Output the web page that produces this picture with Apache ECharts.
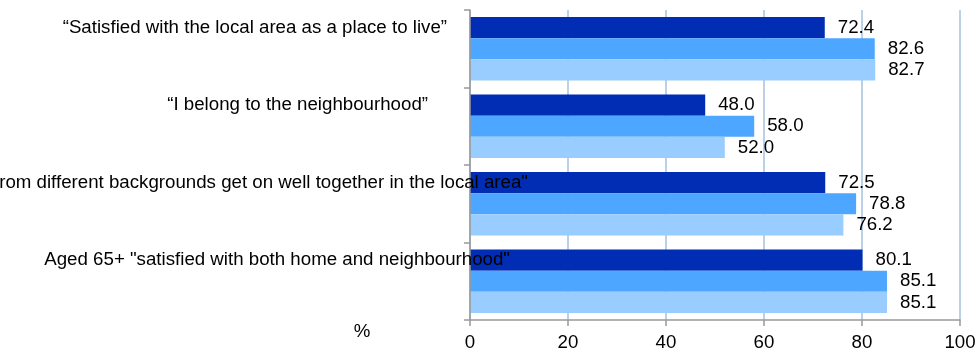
<!DOCTYPE html>
<html><head><meta charset="utf-8">
<script src="https://cdn.jsdelivr.net/npm/echarts@6/dist/echarts.min.js"></script>
<style>html,body{margin:0;padding:0;background:#fff}#c{width:978px;height:353px}</style>
</head><body><div id="c"></div>
<script>
const categories = [
  '“Satisfied with the local area as a place to live”',
  '“I belong to the neighbourhood”',
  '“People from different backgrounds get on well together in the local area"',
  'Aged 65+ "satisfied with both home and neighbourhood"'
];
const seriesNames = ['Series 1', 'Series 2', 'Series 3'];
const series1 = [72.4, 48.0, 72.5, 80.1];
const series2 = [82.6, 58.0, 78.8, 85.1];
const series3 = [82.7, 52.0, 76.2, 85.1];
const xMin = 0, xMax = 100, xStep = 20;
const axisName = '%';

// style: right padding per category label (label placement only)
const labelRightPad = [83, 102, 2, 20];
const colors = ['#002db3', '#4da6ff', '#99ccff'];
const FONT = '"Liberation Sans", Arial, sans-serif';
const FS = 18.7;

const rich = {};
labelRightPad.forEach((p, i) => {
  rich['l' + i] = { padding: [0, p, 42, 0], fontSize: FS, fontFamily: FONT, color: '#000' };
});

const chart = echarts.init(document.getElementById('c'));
const mk = (name, data, i) => ({
  name, type: 'bar', data,
  itemStyle: { color: colors[i] },
  barGap: '0%', barCategoryGap: '18%',
  label: {
    show: true, position: 'right', distance: 13,
    fontSize: FS, fontFamily: FONT, color: '#000',
    formatter: p => p.value.toFixed(1)
  }
});
chart.setOption({
  animation: false,
  textStyle: { fontFamily: FONT },
  grid: { left: 470, right: 18, top: 10, bottom: 33, containLabel: false, outerBoundsMode: 'none' },
  graphic: [{
    type: 'text', x: 362, y: 332,
    style: { text: axisName, fontSize: FS, fontFamily: FONT, fill: '#000', align: 'center', verticalAlign: 'middle' }
  }],
  xAxis: {
    type: 'value', min: xMin, max: xMax, interval: xStep,
    axisLine: { show: true, lineStyle: { color: '#999', width: 1.5 } },
    axisTick: { show: true, length: 6, lineStyle: { color: '#999', width: 1.5 } },
    axisLabel: { fontSize: FS, fontFamily: FONT, color: '#000', margin: 13 },
    splitLine: { show: true, lineStyle: { color: '#bcd0e8', width: 2 } }
  },
  yAxis: {
    type: 'category', data: categories, inverse: true, z: 5,
    axisLine: { show: true, lineStyle: { color: '#999', width: 1.5 } },
    axisTick: { show: true, length: 6, lineStyle: { color: '#999', width: 1.5 } },
    axisLabel: {
      align: 'right', verticalAlign: 'middle', margin: -60,
      fontSize: FS, fontFamily: FONT, color: '#000',
      formatter: (v, i) => '{l' + i + '|' + v + '}',
      rich
    }
  },
  series: [mk(seriesNames[0], series1, 0), mk(seriesNames[1], series2, 1), mk(seriesNames[2], series3, 2)]
});
</script></body></html>
